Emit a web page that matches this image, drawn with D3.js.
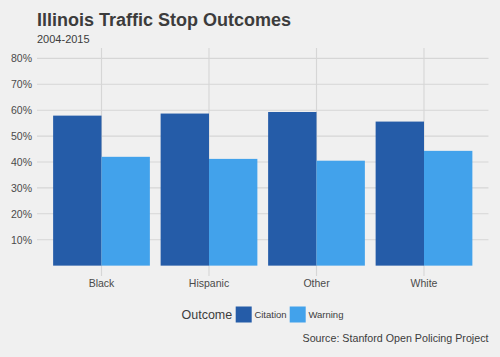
<!DOCTYPE html>
<html>
<head>
<meta charset="utf-8">
<script src="https://cdn.jsdelivr.net/npm/d3@7"></script>
<style>
html,body{margin:0;padding:0;background:#f0f0f0;}
svg{display:block;font-family:"Liberation Sans",Arial,Helvetica,sans-serif;}
</style>
</head>
<body>
<svg id="chart" width="500" height="357"></svg>
<script>
const categories = ["Black", "Hispanic", "Other", "White"];
const outcomes = ["Citation", "Warning"];
const citation = [0.579, 0.587, 0.593, 0.556];
const warning = [0.420, 0.412, 0.405, 0.443];
const yTicks = [0.1, 0.2, 0.3, 0.4, 0.5, 0.6, 0.7, 0.8];
const colors = ["#255ca8", "#42a2eb"];

const svg = d3.select("#chart");
const W = 500, H = 357;
svg.append("rect").attr("width", W).attr("height", H).attr("fill", "#f0f0f0");

const panel = {left: 37, right: 488.5, top: 48, bottom: 276};

const y = d3.scaleLinear().domain([-0.04, 0.84]).range([panel.bottom, panel.top]);
// discrete axis with ggplot-style 0.6 expansion
const xc = d3.scaleLinear().domain([0.4, categories.length + 0.6]).range([panel.left, panel.right]);
const x = d3.scaleBand().domain(categories)
  .range([xc(0.5), xc(categories.length + 0.5)]).paddingInner(0.1).paddingOuter(0.05);
const xSub = d3.scaleBand().domain(outcomes).range([0, x.bandwidth()]);
const center = c => x(c) + x.bandwidth() / 2;

// grid
const grid = svg.append("g").attr("stroke", "#d6d6d6").attr("stroke-width", 1.1);
grid.selectAll("line.h").data(yTicks).join("line")
  .attr("x1", panel.left).attr("x2", panel.right)
  .attr("y1", d => y(d)).attr("y2", d => y(d));
grid.selectAll("line.v").data(categories).join("line")
  .attr("x1", d => center(d)).attr("x2", d => center(d))
  .attr("y1", panel.top).attr("y2", panel.bottom);

// bars
const rows = categories.map((c, i) => ({cat: c, vals: [citation[i], warning[i]]}));
const g = svg.append("g");
rows.forEach(r => {
  outcomes.forEach((o, j) => {
    g.append("rect")
      .attr("x", x(r.cat) + xSub(o))
      .attr("width", xSub.bandwidth())
      .attr("y", y(r.vals[j]))
      .attr("height", y(0) - y(r.vals[j]))
      .attr("fill", colors[j]);
  });
});

// y axis labels
const yAxis = d3.axisLeft(y).tickValues(yTicks).tickFormat(d3.format(".0%")).tickSize(0).tickPadding(5);
const ya = svg.append("g").attr("transform", `translate(${panel.left},0)`).call(yAxis);
ya.select(".domain").remove();
ya.selectAll("text").attr("fill", "#4a4a4a").attr("font-size", 10.5)
  .attr("font-family", "Liberation Sans, Arial, sans-serif");

// x axis labels
const xAxis = d3.axisBottom(x).tickSize(0).tickPadding(4);
const xa = svg.append("g").attr("transform", `translate(0,${panel.bottom})`).call(xAxis);
xa.select(".domain").remove();
xa.selectAll("text").attr("fill", "#4a4a4a").attr("font-size", 10.5)
  .attr("font-family", "Liberation Sans, Arial, sans-serif");

// title
svg.append("text").attr("x", 37).attr("y", 25.7)
  .attr("font-size", 18).attr("font-weight", "bold").attr("fill", "#3c3c3c")
  .text("Illinois Traffic Stop Outcomes");
svg.append("text").attr("x", 37).attr("y", 42.5)
  .attr("font-size", 11).attr("fill", "#3c3c3c").text("2004-2015");

// legend
const lg = svg.append("g");
lg.append("text").attr("x", 181.5).attr("y", 318.5).attr("font-size", 12.5).attr("fill", "#3c3c3c").text("Outcome");
const keyX = [235.7, 289.7];
outcomes.forEach((o, j) => {
  lg.append("rect").attr("x", keyX[j]).attr("y", 306.5).attr("width", 16).attr("height", 16)
    .attr("fill", colors[j]);
  lg.append("text").attr("x", keyX[j] + 18.7).attr("y", 318).attr("font-size", 9.5)
    .attr("fill", "#3c3c3c").text(o);
});

svg.append("text").attr("x", 488.5).attr("y", 342.3).attr("text-anchor", "end")
  .attr("font-size", 10.7).attr("fill", "#3c3c3c").text("Source: Stanford Open Policing Project");
</script>
</body>
</html>
